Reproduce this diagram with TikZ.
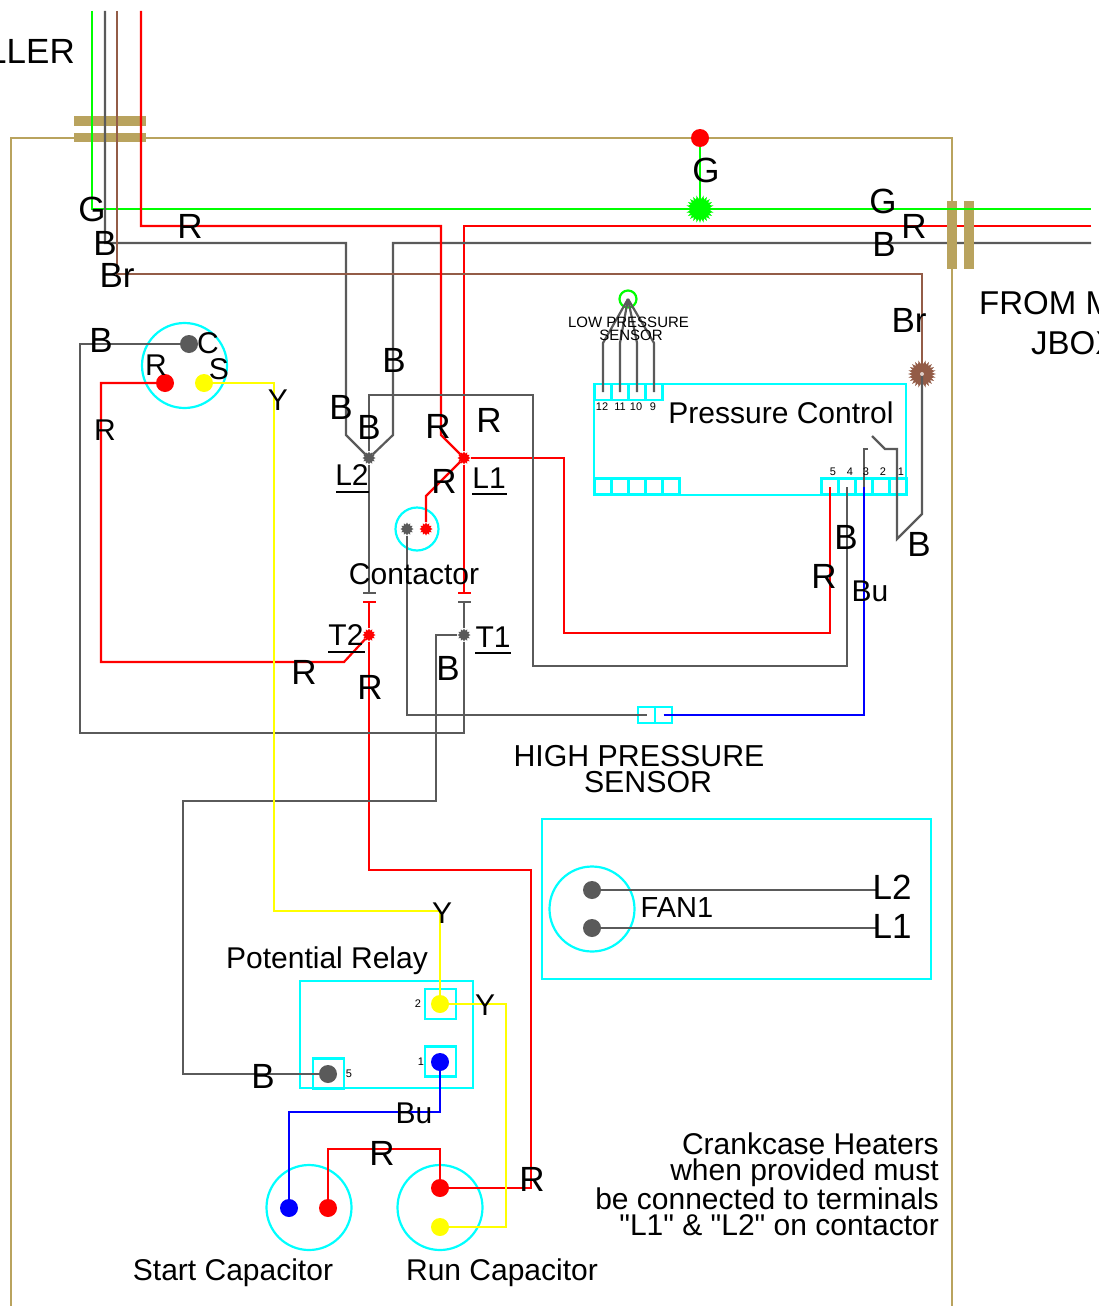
\documentclass[tikz,border=0pt]{standalone}
\usepackage{fontspec}
\setmainfont{Liberation Sans}
\newfontfamily\plainquote{Liberation Sans}
\usetikzlibrary{shapes.geometric}
\definecolor{wiregray}{HTML}{5A5A5A}
\definecolor{wirebrown}{HTML}{935C47}
\definecolor{wiregreen}{HTML}{00FF00}
\definecolor{wirered}{HTML}{FF0000}
\definecolor{wireblue}{HTML}{0000FF}
\definecolor{wireyellow}{HTML}{FFFF00}
\definecolor{boxcyan}{HTML}{00FFFF}
\definecolor{conduittan}{HTML}{B9A35E}
\tikzset{
  wire/.style={line width=2.2pt, line join=miter},
  cyanbox/.style={draw=boxcyan, line width=2.2pt, rectangle, inner sep=0pt},
  termbox/.style={cyanbox, minimum width=17pt, minimum height=16pt},
  relaybox/.style={cyanbox, minimum width=31pt, minimum height=30pt},
  cyancircle/.style={draw=boxcyan, line width=2.2pt, circle, inner sep=0pt, minimum size=85pt},
  termnode/.style={circle, inner sep=0pt, minimum size=18pt, fill=#1},
  lugnode/.style={star, star points=12, star point ratio=1.45, inner sep=0pt, minimum size=13pt, fill=#1},
  burstnode/.style={star, star points=24, star point ratio=1.4, inner sep=0pt, minimum size=28pt, fill=#1},
  contactbar/.style={rectangle, inner sep=0pt, minimum width=13pt, minimum height=2pt, fill=#1},
  biglabel/.style={inner sep=0pt, font=\fontsize{35}{35}\selectfont},
  midlabel/.style={inner sep=0pt, font=\fontsize{30}{30}\selectfont},
  tinylabel/.style={inner sep=0pt, font=\fontsize{11}{11}\selectfont},
  underl/.style={line width=1.5pt}
}
\begin{document}
\begin{tikzpicture}[x=1pt, y=-1pt]
  \useasboundingbox (0,0) rectangle (1099,1306);

  \draw[conduittan, wire] (11,1306) -- (11,138) -- (952,138) -- (952,1306);
  \fill[conduittan] (74,116) rectangle (146,126);
  \fill[conduittan] (74,133) rectangle (146,142);

  \coordinate (gtop) at (92,11);
  \coordinate (btop) at (105,11);
  \coordinate (brtop) at (117,11);
  \coordinate (rtop) at (141,11);
  \coordinate (gend) at (1091,209);
  \coordinate (rend) at (1091,226);
  \coordinate (bend) at (1091,243);
  \coordinate (swa) at (868,449);
  \coordinate (swb) at (872,436);
  \coordinate (fanl2) at (876,890);
  \coordinate (fanl1) at (876,928);

  \node[cyanbox, minimum width=312pt, minimum height=111pt] (pctrl) at (750,439.5) {};
  \node[cyanbox, minimum width=389pt, minimum height=160pt] (fanbox) at (736.5,899) {};
  \node[cyanbox, minimum width=173pt, minimum height=107pt] (relay) at (386.5,1034.5) {};
  \node[cyancircle] (comp) at (184.5,365.5) {};
  \node[cyancircle, minimum size=43pt] (coil) at (417,529) {};
  \node[cyancircle] (fan) at (592,909) {};
  \node[cyancircle] (startcap) at (309,1207.5) {};
  \node[cyancircle] (runcap) at (440,1207.5) {};
  \node[draw=wiregreen, wire, circle, inner sep=0pt, minimum size=17pt] (lowp) at (628,299) {};

  \foreach \x/\t in {603/12, 620/11, 637/10, 654/9} {
    \node[termbox] (ptop\t) at (\x,392) {};
  }
  \foreach \x in {603, 620, 637, 654, 671} {
    \node[termbox] at (\x,486.5) {};
  }
  \foreach \x/\t in {830/5, 847/4, 864/3, 881/2, 898/1} {
    \node[termbox] (pbot\t) at (\x,486.5) {};
  }
  \node[termbox] (hpl) at (646.5,715) {};
  \node[termbox] (hpr) at (663.5,715) {};
  \node[relaybox] (box2) at (440.5,1004) {};
  \node[relaybox] (box1) at (440.5,1061.5) {};
  \node[relaybox] (box5) at (328.5,1073.5) {};

  \node[termnode=wirered] (gnddot) at (700,138) {};
  \node[burstnode=wiregreen] (gjun) at (700,209) {};
  \node[burstnode=wirebrown] (brn) at (922,374) {};
  \node[termnode=wiregray] (ccom) at (189,344) {};
  \node[termnode=wirered] (crun) at (165,383) {};
  \node[termnode=wireyellow] (cstart) at (204,383) {};
  \node[lugnode=wiregray] (l2) at (369,458) {};
  \node[lugnode=wirered] (l1) at (464,458) {};
  \node[lugnode=wiregray] (coilb) at (407,529) {};
  \node[lugnode=wirered] (coilr) at (426,529) {};
  \node[lugnode=wirered] (t2) at (369,635) {};
  \node[lugnode=wiregray] (t1) at (464,635) {};
  \node[contactbar=wiregray] (cl2top) at (369,593) {};
  \node[contactbar=wirered] (cl2bot) at (369,602) {};
  \node[contactbar=wirered] (cl1top) at (464,593) {};
  \node[contactbar=wiregray] (cl1bot) at (464,602) {};
  \node[termnode=wiregray] (fan2) at (592,890) {};
  \node[termnode=wiregray] (fan1) at (592,928) {};
  \node[termnode=wireyellow] (rly2) at (440,1004) {};
  \node[termnode=wireblue] (rly1) at (440,1062) {};
  \node[termnode=wiregray] (rly5) at (328,1074) {};
  \node[termnode=wireblue] (scapb) at (289,1208) {};
  \node[termnode=wirered] (scapr) at (328,1208) {};
  \node[termnode=wirered] (runr) at (440,1188) {};
  \node[termnode=wireyellow] (runy) at (440,1227) {};

  \draw[wire, wirered] (rend) -- (464,226) -- (l1);
  \draw[wire, wiregray] (bend) -- (393,243) -- (393,435) -- (l2);
  \fill[conduittan] (947,201) rectangle (957,269);
  \fill[conduittan] (964,201) rectangle (974,269);
  \draw[wire, wiregreen] (gtop) -- (92,209) -- (gjun.center);
  \draw[wire, wiregreen] (gjun.center) -- (gend);
  \draw[wire, wiregreen] (gnddot) -- (gjun.center);
  \draw[wire, wiregray] (btop) -- (105,243) -- (346,243) -- (346,435) -- (l2);
  \draw[wire, wirebrown] (brtop) -- (117,274) -- (922,274) -- (brn.center);
  \draw[wire, wirered] (rtop) -- (141,226) -- (441,226) -- (441,435) -- (l1);
  \draw[wire, wirered] (l1) -- (cl1top);
  \draw[wire, wirered] (l1) -- (564,458) -- (564,633) -- (830,633) -- (pbot5.center);
  \draw[wire, wirered] (l1) -- (426,496) -- (coilr);
  \draw[wire, wirered] (cl2bot) -- (t2);
  \draw[wire, wirered] (t2) -- (344,662) -- (101,662) -- (101,383) -- (crun);
  \draw[wire, wirered] (t2) -- (369,870) -- (531,870) -- (531,1188) -- (runr);
  \draw[wire, wirered] (scapr) -- (328,1149) -- (440,1149) -- (runr);
  \draw[wire, wiregray] (l2) -- (cl2top);
  \draw[wire, wiregray] (l2) -- (369,395) -- (533,395) -- (533,666) -- (847,666) -- (pbot4.center);
  \draw[wire, wiregray] (cl1bot) -- (t1);
  \draw[wire, wiregray] (t1) -- (464,733) -- (80,733) -- (80,344) -- (ccom);
  \draw[wire, wiregray] (t1) -- (436,635) -- (436,801) -- (183,801) -- (183,1074) -- (rly5);
  \draw[wire, wiregray] (coilb) -- (407,715) -- (hpl.center);
  \draw[wire, wiregray] (swa) -- (864,449) -- (pbot3.center);
  \draw[wire, wireblue] (hpr.center) -- (864,715) -- (pbot3.center);
  \draw[wire, wiregray] (swb) -- (885,449) -- (897,449) -- (897,539) -- (922,514) -- (brn.center);
  \fill[white!70!wirebrown] (brn) circle (2);
  \foreach \x/\t in {603/12, 620/11, 637/10, 654/9} {
    \draw[wire, wiregray] (lowp.center) -- (\x,343) -- (ptop\t.center);
  }
  \draw[wire, wireyellow] (cstart) -- (274,383) -- (274,911) -- (440,911) -- (rly2);
  \draw[wire, wireyellow] (rly2) -- (506,1004) -- (506,1227) -- (runy);
  \draw[wire, wireblue] (rly1) -- (440,1112) -- (289,1112) -- (scapb);
  \draw[wire, wiregray] (fan2) -- (fanl2);
  \draw[wire, wiregray] (fan1) -- (fanl1);

  \node[biglabel, anchor=east] (ctrltext) at (75,51) {LLER};
  \node[biglabel, anchor=west, font=\fontsize{33}{33}\selectfont] (fromtext) at (979,303) {FROM M};
  \node[biglabel, anchor=west, font=\fontsize{33}{33}\selectfont] (jboxtext) at (1031,343) {JBOX};
  \node[biglabel] (gleft) at (92,209) {G};
  \node[biglabel] (bleft) at (105,243) {B};
  \node[biglabel] (brleft) at (117,275) {Br};
  \node[biglabel] (rleft) at (190,226) {R};
  \node[biglabel] (ggnd) at (706,170) {G};
  \node[biglabel] (gright) at (883,201) {G};
  \node[biglabel] (rright) at (914,226) {R};
  \node[biglabel] (bright) at (884,244) {B};
  \node[biglabel] (brright) at (909,320) {Br};
  \node[biglabel] (bcom) at (101,340) {B};
  \node[midlabel] (ccomtext) at (208,343) {C};
  \node[midlabel] (rcomp) at (156,365) {R};
  \node[midlabel] (scomp) at (219,369) {S};
  \node[midlabel] (ycomp) at (278,400) {Y};
  \node[midlabel] (rrun) at (105,430) {R};
  \node[biglabel] (bmid) at (394,360) {B};
  \node[biglabel] (bl2a) at (341,407) {B};
  \node[biglabel] (bl2b) at (369,427) {B};
  \node[biglabel] (rl1a) at (438,426) {R};
  \node[biglabel] (rl1b) at (489,420) {R};
  \node[biglabel] (rcoil) at (444,481) {R};
  \node[midlabel] (l2text) at (352,475) {L2};
  \node[midlabel] (l1text) at (489,478) {L1};
  \node[midlabel] (t2text) at (346,635) {T2};
  \node[midlabel] (t1text) at (493,637) {T1};
  \draw[underl] (336,492) -- (369,492);
  \draw[underl] (472,494) -- (507,494);
  \draw[underl] (328,652) -- (365,652);
  \draw[underl] (475,653) -- (511,653);
  \node[midlabel] (contactor) at (414,574) {Contactor};
  \node[biglabel] (rt2) at (304,672) {R};
  \node[biglabel] (rlow) at (370,687) {R};
  \node[biglabel] (bt1) at (448,668) {B};
  \node[biglabel] (bp4) at (846,537) {B};
  \node[biglabel] (bsw) at (919,544) {B};
  \node[biglabel] (rp5) at (824,576) {R};
  \node[midlabel] (bup3) at (870,591) {Bu};
  \node[midlabel, font=\fontsize{30.3}{26}\selectfont, align=center] (hptext) at (639,769) {HIGH PRESSURE\\\hspace*{18pt}SENSOR};
  \node[inner sep=0pt, font=\fontsize{15}{13}\selectfont, align=center] (lptext) at (628.5,329) {LOW PRESSURE\\\hspace*{5pt}SENSOR};
  \node[midlabel] (pctext) at (781,413) {Pressure Control};
  \foreach \x/\t in {602/12, 620/11, 636/10, 653/9} {
    \node[tinylabel] (ptext\t) at (\x,407) {\t};
  }
  \foreach \x/\t in {833/5, 850/4, 866/3, 883/2, 901/1} {
    \node[tinylabel] (btext\t) at (\x,472) {\t};
  }
  \node[midlabel, font=\fontsize{29}{29}\selectfont] (fantext) at (677,908) {FAN1};
  \node[biglabel] (l2fan) at (892,887) {L2};
  \node[biglabel] (l1fan) at (892,926) {L1};
  \node[midlabel] (yrelay) at (442,913) {Y};
  \node[midlabel] (y2) at (485,1005) {Y};
  \node[midlabel] (relaytext) at (327,961) {Potential Relay};
  \node[tinylabel] (n2) at (418,1004) {2};
  \node[tinylabel] (n1) at (421,1062) {1};
  \node[tinylabel] (n5) at (349,1074) {5};
  \node[biglabel] (brelay) at (263,1076) {B};
  \node[midlabel] (bucap) at (414,1113) {Bu};
  \node[biglabel] (rcap) at (382,1153) {R};
  \node[biglabel] (rruncap) at (532,1179) {R};
  \node[midlabel] (starttext) at (233,1273) {Start Capacitor};
  \node[midlabel] (runtext) at (502,1273) {Run Capacitor};
  \node[midlabel, anchor=east, font=\fontsize{30}{25.8}\selectfont, align=right] (heatertext) at (939,1184.5) {Crankcase Heaters\\when provided must\\be connected to terminals\\{\plainquote "L1" \& "L2"} on contactor};
\end{tikzpicture}
\end{document}
